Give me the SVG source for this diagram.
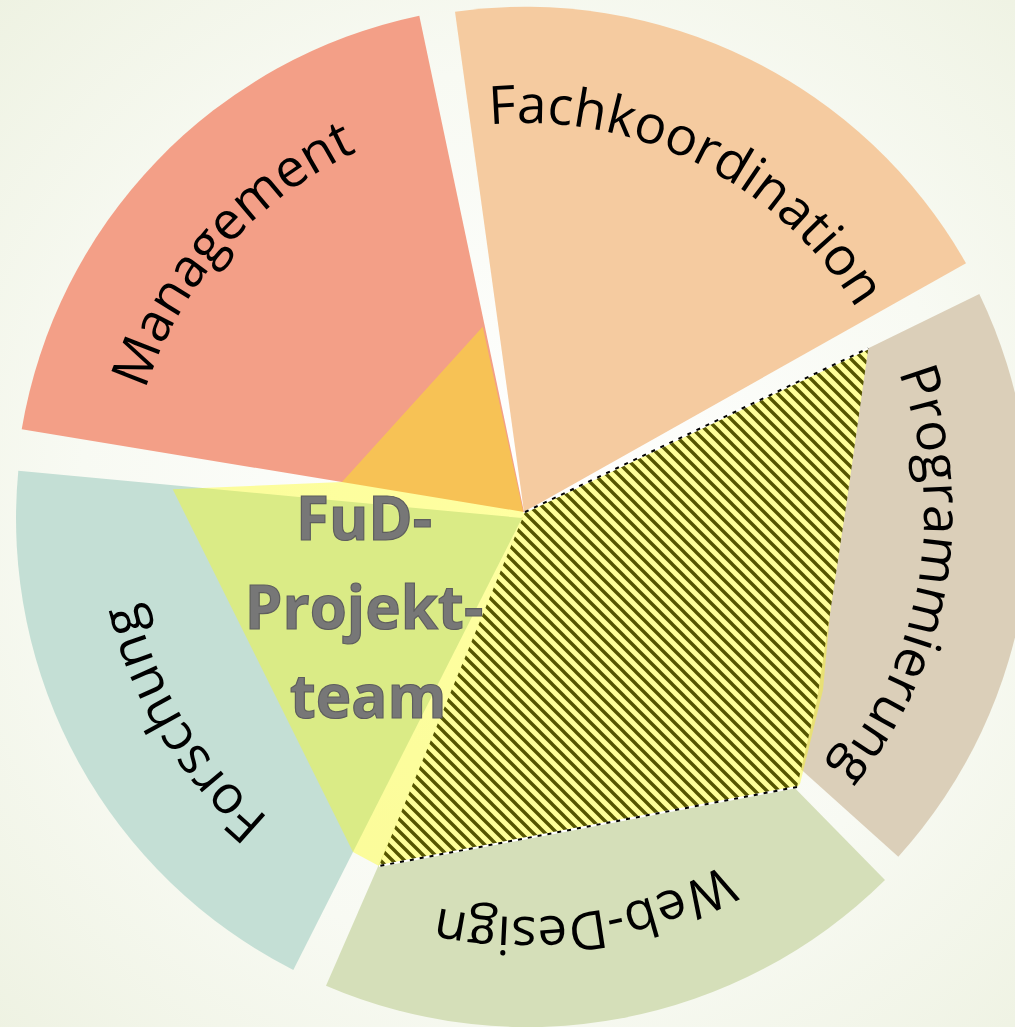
<svg xmlns="http://www.w3.org/2000/svg" width="1015" height="1027" viewBox="0 0 1015 1027">
<defs>
<radialGradient id="bg" gradientUnits="userSpaceOnUse" cx="524" cy="513" r="740">
<stop offset="0" stop-color="#ffffff"/>
<stop offset="0.6" stop-color="#f8faf3"/>
<stop offset="1" stop-color="#eef2e2"/>
</radialGradient>
<pattern id="hatch" patternUnits="userSpaceOnUse" width="12" height="12">
<rect width="12" height="12" fill="#ffff99"/>
<path d="M-3,-3 L15,15 M-6,6 L6,18 M6,-6 L18,6" stroke="#555500" stroke-width="3.4"/>
</pattern>
<path id="pM" d="M146.3,638.6 A398 398 0 0 1 604.0,123.1"/>
<path id="pF" d="M309.9,187.0 A390 390 0 0 1 913.4,490.5"/>
<path id="pP" d="M779.0,204.8 A400 400 0 0 1 663.4,887.9"/>
<path id="pW" d="M900.2,660.4 A404 404 0 0 1 208.3,765.1"/>
<path id="pR" d="M535.1,910.8 A398 398 0 0 1 173.9,323.7"/>
</defs>
<style>
.lbl{font-family:"Open Sans","Noto Sans","DejaVu Sans",sans-serif;font-size:53px;fill:#000000}
.ctr{font-family:"Open Sans","Noto Sans","DejaVu Sans",sans-serif;font-size:60px;font-weight:bold;fill:#777777;stroke:#5e5e5e;stroke-width:1.2}
.dash{stroke:#000000;stroke-width:2;stroke-dasharray:4 6;fill:none}
.dashbg{stroke:#ffffff;stroke-width:2;fill:none}
</style>
<rect x="0" y="0" width="1015" height="1027" fill="url(#bg)"/>
<g id="management">
<path d="M524,512 L21.7,429.3 A509 509 0 0 1 419.3,15.7 Z" fill="#f39f87"/>
</g>
<g id="fachkoordination">
<path d="M524,512 L455,11.7 A507 507 0 0 1 966,263.3 Z" fill="#f5cba0"/>
</g>
<g id="programmierung">
<path d="M521,518 L979.3,294 A509 509 0 0 1 898.3,856.7 Z" fill="#dbcfb9"/>
</g>
<g id="webdesign">
<path d="M530,518 L885,880 A509 509 0 0 1 326,985.7 Z" fill="#d5dfb9"/>
</g>
<g id="forschung">
<path d="M522,518 L293.3,970 A506 506 0 0 1 18.3,470.7 Z" fill="#c4dfd5"/>
</g>
<g id="fud-area">
<polygon points="482.7,326.7 523.5,513 835,560 823,690 800,784 797,787 379,866 353,852 172.7,489.3 342,482" fill="#ffff00" fill-opacity="0.37"/>
</g>
<g id="hatched">
<polygon points="525,512 868.3,348.3 847,500 817,700 797,787 379,866" fill="url(#hatch)"/>
<g id="connectors">
<line class="dashbg" x1="525" y1="512" x2="868.3" y2="348.3"/>
<line class="dash" x1="525" y1="512" x2="868.3" y2="348.3"/>
<line class="dashbg" x1="797" y1="787" x2="379" y2="866"/>
<line class="dash" x1="797" y1="787" x2="379" y2="866"/>
</g>
</g>
<g id="labels">
<text class="lbl"><textPath href="#pM" startOffset="50%" text-anchor="middle">Management</textPath></text>
<text class="lbl"><textPath href="#pF" startOffset="50%" text-anchor="middle">Fachkoordination</textPath></text>
<text class="lbl"><textPath href="#pP" startOffset="50%" text-anchor="middle">Programmierung</textPath></text>
<text class="lbl"><textPath href="#pW" startOffset="50%" text-anchor="middle">Web-Design</textPath></text>
<text class="lbl"><textPath href="#pR" startOffset="50%" text-anchor="middle">Forschung</textPath></text>
</g>
<g id="center-label">
<text class="ctr" x="364" y="540" text-anchor="middle">FuD-</text>
<text class="ctr" x="364" y="629" text-anchor="middle">Projekt-</text>
<text class="ctr" x="368" y="718" text-anchor="middle">team</text>
</g>
</svg>
